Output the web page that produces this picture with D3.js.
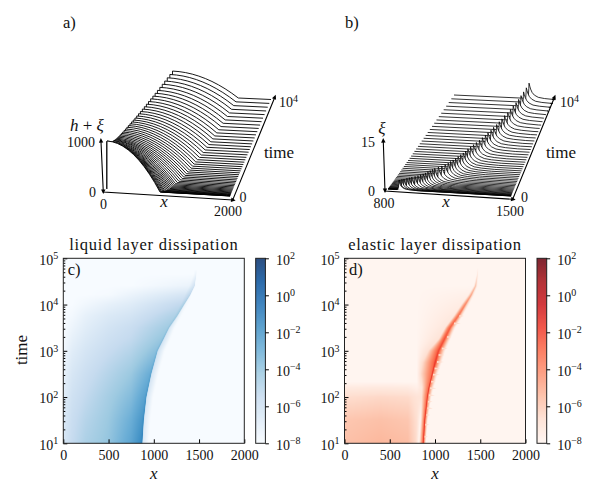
<!DOCTYPE html>
<html>
<head>
  <meta charset="utf-8">
  <script src="https://d3js.org/d3.v7.min.js"></script>
  <style>
    html, body { margin: 0; padding: 0; background: #fff; }
    svg { display: block; }
    text { font-family: "Liberation Serif", serif; fill: #111; font-size: 14px; }
    .it { font-style: italic; }
  </style>
</head>
<body>
<script>
// --- waterfall slices, shared by a) and b)
var sliceTime = [0,4,17,37,67,104,150,204,267,337,416,504,600,704,816,937,1066,1204,1349,1504,1666,1837,2016,2203,2399,
  2603,2816,3036,3265,3503,3749,4003,4265,4536,4815,5102,5398,5702,6014,6335,6664,7001,7347,7701,8063,8434,8813,9200,9596,10000];
var sliceFront = [862,866,878,889,905,918,930,947,961,974,986,996,1007,1017,1026,1035,1052,1067,1082,1095,1104,1113,1122,1131,1140,
  1149,1156,1163,1172,1182,1192,1203,1213,1223,1230,1240,1247,1257,1264,1271,1278,1288,1295,1302,1309,1315,1319,1324,1330,1336];
// a) height at x=0 of each slice
var slicePeak = [1000,999,985,973,956,942,930,913,900,888,877,868,859,850,843,836,822,811,799,790,784,777,771,765,759,
  753,748,744,738,732,726,719,713,707,703,698,694,688,684,681,677,672,668,664,661,658,656,653,650,647];
// a) cap shape, fraction of front position / fraction of peak height
var capX = [0,0.1,0.2,0.3,0.4,0.5,0.6,0.7,0.8,0.9,1];
var capH = [1,0.99,0.96,0.91,0.84,0.75,0.64,0.51,0.36,0.19,0];
// b) ridge height and tail width of each slice
var ridgeXi = [2.9,3,3.2,3.3,3.5,3.6,3.7,3.8,3.9,4,4.1,4.2,4.3,4.4,4.5,4.5,4.6,4.6,4.7,4.7,4.8,4.8,4.8,4.9,4.9,
  4.9,4.9,5,5,5,5,5,5.1,5.1,5.1,5.1,5.2,5.2,5.2,5.2,5.3,5.3,5.3,5.4,5.4,5.4,5.5,5.6,5.8,6.2];
var ridgeWidth = [60,62,64,66,68,70,72,74,76,78,80,82,84,86,88,90,92,94,96,98,100,102,104,106,108,
  110,110,110,110,110,110,110,110,110,110,110,110,110,110,110,110,110,110,110,110,110,110,110,110,110];
var ridgeDx = [-0.2,-0.1,-0.04,-0.015,0,0.05,0.1,0.2,0.35,0.6,1,1.7];
var ridgeH = [0,0.04,0.25,0.65,1,0.8,0.62,0.4,0.23,0.1,0.04,0];

// --- c) liquid layer dissipation, log10 values along rows of log10(time)
var liquidLogT = [1,1.5,2,2.5,3,3.25,3.5,3.75,4,4.2,4.4,4.65,4.75,5];
var liquidX = [
  [0,100,250,500,750,851,871,877,940,2000],
  [0,100,250,500,750,867,887,893,960,2000],
  [0,100,250,500,750,896,916,922,990,2000],
  [0,100,250,500,750,950,970,976,1050,2000],
  [0,100,250,500,750,1020,1040,1046,1120,2000],
  [0,100,250,500,750,1085,1105,1111,1180,2000],
  [0,100,250,500,750,1148,1168,1174,1230,2000],
  [0,100,250,500,750,1228,1258,1262,1300,2000],
  [0,100,250,500,750,1296,1336,1340,1370,2000],
  [0,100,250,500,750,1340,1400,1404,1430,2000],
  [0,100,250,500,750,1390,1450,1454,1480,2000],
  [0,100,250,500,750,1440,1468,1472,1490,2000],
  [0,100,250,500,750,1445,1472,1476,1492,2000],
  [0,100,250,500,750,1450,1475,1479,1495,2000]
];
var liquidV = [
  [-6.4,-5.5,-4.7,-4,-2.6,-1.6,-1.2,-6.6,-8,-8],
  [-6.6,-5.7,-5,-4.2,-3,-2,-1.5,-6.6,-8,-8],
  [-6.9,-6,-5.4,-4.5,-3.6,-2.5,-1.9,-6.4,-8,-8],
  [-7.3,-6.4,-5.8,-5,-4.2,-3,-2.5,-6.3,-8,-8],
  [-7.7,-6.9,-6.3,-5.6,-5,-3.8,-3.2,-6.1,-8,-8],
  [-7.9,-7.2,-6.6,-5.9,-5.4,-4.1,-3.5,-6.3,-8,-8],
  [-8,-7.5,-6.9,-6.2,-5.7,-4.4,-3.8,-6.5,-8,-8],
  [-8,-7.8,-7.2,-6.6,-6.2,-4.8,-4.1,-7,-8,-8],
  [-8,-8,-7.7,-7.2,-6.8,-5.4,-4.5,-7.6,-8,-8],
  [-8,-8,-8,-7.9,-7.4,-6.3,-5,-8,-8,-8],
  [-8,-8,-8,-8,-8,-7.4,-6,-8,-8,-8],
  [-8,-8,-8,-8,-8,-8,-7.4,-8,-8,-8],
  [-8,-8,-8,-8,-8,-8,-8,-8,-8,-8],
  [-8,-8,-8,-8,-8,-8,-8,-8,-8,-8]
];

// --- d) elastic layer dissipation
var elasticLogT = [1,1.5,2,2.2,2.32,2.5,2.75,3,3.25,3.5,3.75,4,4.2,4.4,4.65,4.78,5];
var elasticX = [
  [0,400,700,790,822,863,871,878,900,2000],
  [0,400,700,800,838,879,887,894,920,2000],
  [0,400,700,800,850,908,916,923,960,2000],
  [0,400,700,800,853,925,933,941,985,2000],
  [0,400,700,800,853,939,948,957,1005,2000],
  [0,400,700,800,855,960,970,980,1030,2000],
  [0,400,700,800,870,985,1003,1022,1075,2000],
  [0,400,700,800,925,1020,1040,1062,1115,2000],
  [0,400,700,800,1040,1083,1105,1128,1170,2000],
  [0,400,700,800,1110,1146,1168,1188,1225,2000],
  [0,400,700,800,1205,1238,1258,1275,1305,2000],
  [0,400,700,800,1290,1320,1336,1350,1375,2000],
  [0,400,700,800,1365,1388,1400,1410,1428,2000],
  [0,400,700,800,1428,1442,1450,1458,1470,2000],
  [0,400,700,800,1460,1465,1470,1474,1480,2000],
  [0,400,700,800,1463,1468,1473,1477,1483,2000],
  [0,400,700,800,1465,1470,1475,1479,1485,2000]
];
var elasticV = [
  [-5.7,-5.4,-5.6,-6.6,-8,-3.2,-1,-4,-8,-8],
  [-5.9,-5.7,-5.9,-6.8,-8,-3.2,-1,-4,-8,-8],
  [-6.7,-6.5,-6.6,-7,-7,-3.2,-1,-4,-8,-8],
  [-7.4,-7.3,-7.4,-7.7,-7.2,-3.2,-1,-4,-8,-8],
  [-8,-8,-8,-8,-6.8,-3.2,-1,-4,-8,-8],
  [-8,-8,-8,-8,-6.3,-3.2,-1.2,-4,-8,-8],
  [-8,-8,-8,-8,-6.5,-3,-1.5,-4,-8,-8],
  [-8,-8,-8,-8,-6.8,-3.1,-1.9,-4.2,-8,-8],
  [-8,-8,-8,-8,-7,-3.4,-2.2,-4.6,-8,-8],
  [-8,-8,-8,-8,-7.2,-3.8,-2.6,-5,-8,-8],
  [-8,-8,-8,-8,-7.3,-4.2,-3.1,-5.5,-8,-8],
  [-8,-8,-8,-8,-7.5,-4.8,-3.8,-6,-8,-8],
  [-8,-8,-8,-8,-7.7,-5.5,-4.6,-6.5,-8,-8],
  [-8,-8,-8,-8,-8,-6.3,-5.6,-7,-8,-8],
  [-8,-8,-8,-8,-8,-7.6,-7,-7.8,-8,-8],
  [-8,-8,-8,-8,-8,-8,-8,-8,-8,-8],
  [-8,-8,-8,-8,-8,-8,-8,-8,-8,-8]
];
// pale streaks on the right of the elastic ridge
var streakLogT = [1.14,1.4,1.61,1.76,1.9,2.04,2.19,2.33,2.48,2.62,2.76,2.91,3.05,3.3,3.59,3.75];
var streakX = [885,892,906,916,922,932,946,958,978,996,1022,1040,1075,1135,1210,1270];
var streakLen = [35,45,42,60,50,65,70,52,75,62,75,62,65,48,75,50];

var bluesStops = ["#f7fbff","#deebf7","#c6dbef","#9ecae1","#6baed6","#4292c6","#2171b5","#08519c","#08306b"];
var redsStops = ["#fff5f0","#fee0d2","#fcbba1","#fc9272","#fb6a4a","#ef3b2c","#cb181d","#a50f15","#67000d"];
var cbarTicks = [-8,-6,-4,-2,0,2];
var xTicks = [0,500,1000,1500,2000];
var decades = [1,2,3,4,5];

var svg = d3.select("body").append("svg").attr("width", 600).attr("height", 500);

function sup(sel, exp) {
  sel.text("10").append("tspan").attr("dy", -5.5).style("font-size", "10px").text(String(exp).replace("-", "\u2212"));
}
function label(x, y, txt, anchor, size, cls) {
  return svg.append("text").attr("x", x).attr("y", y).attr("text-anchor", anchor || "start")
    .style("font-size", (size || 14) + "px").attr("class", cls || null).text(txt);
}

// --- waterfall panels
function makeProjection(c, zMax) {
  // c: corners of the base plane on screen
  var u = d3.scaleLinear().domain(c.xDomain).range([0, 1]);
  var v = d3.scaleLinear().domain([0, 10000]).range([0, 1]);
  var zpx = d3.scaleLinear().domain([0, 1]).range([c.zFront, c.zBack]);
  return function(x, t, z) {
    var a = v(t), b = u(x);
    var l = d3.interpolate(c.fl, c.bl)(a), r = d3.interpolate(c.fr, c.br)(a);
    return [l[0] + (r[0] - l[0]) * b, l[1] + (r[1] - l[1]) * b - z / zMax * zpx(a)];
  };
}
function drawSlices(slices, lw) {
  // back to front, white fill hides what is behind
  svg.append("g").selectAll("path").data(slices.slice().reverse()).join("path")
    .attr("d", d3.line())
    .attr("fill", "#fff").attr("stroke", "#000").attr("stroke-width", lw).attr("stroke-linejoin", "round");
}
function arrow(x, y, ang) {
  svg.append("path").attr("d", "M-2.2,1.6L0,-3L2.2,1.6Z").attr("transform", "translate(" + x + "," + y + ") rotate(" + ang + ")").attr("fill", "#000");
}
function axis3d(p) {
  svg.append("path").attr("d", d3.line()(p)).attr("fill", "none").attr("stroke", "#000").attr("stroke-width", 1.1);
}

var projA = makeProjection({xDomain: [0, 2000], fl: [107, 189], fr: [230, 196], bl: [172.5, 95], br: [271, 99.5], zFront: 48, zBack: 37}, 1000);
var slicesA = sliceTime.map(function(t, i) {
  var pts = [projA(0, t, 0)];
  capX.forEach(function(f, k) { pts.push(projA(f * sliceFront[i], t, capH[k] * slicePeak[i])); });
  pts.push(projA(2000, t, 0));
  return pts;
});
drawSlices(slicesA, 0.9);

var projB = makeProjection({xDomain: [800, 1500], fl: [388, 189], fr: [511, 196], bl: [454, 95], br: [552, 99.5], zFront: 48, zBack: 37}, 15);
var slicesB = sliceTime.map(function(t, i) {
  var pts = [projB(800, t, 0)];
  ridgeDx.forEach(function(d, k) { pts.push(projB(sliceFront[i] + d * ridgeWidth[i], t, ridgeH[k] * ridgeXi[i])); });
  pts.push(projB(1500, t, 0));
  return pts;
});
drawSlices(slicesB, 0.8);

axis3d([[101, 141.7], [103.3, 192], [232.7, 200], [274.3, 98.5]]);
axis3d([[383.3, 141.7], [385, 191], [512.7, 199.3], [554, 98.5]]);
arrow(101, 141, -3); arrow(274.6, 97.5, 22);
arrow(383.3, 141, -2); arrow(554.3, 97.5, 22);
arrow(103.3, 191, 180); arrow(232.7, 200, 100);
arrow(385, 190, 180); arrow(512.7, 199.3, 100);

label(63, 28, "a)", "start", 16.5);
label(345, 28, "b)", "start", 16.5);

var hxi = label(70, 131, "", "start", 17);
hxi.append("tspan").attr("class", "it").text("h");
hxi.append("tspan").text(" + ");
hxi.append("tspan").attr("class", "it").text("\u03be");
label(95, 147, "1000", "end"); label(96, 197, "0", "end");
label(103.5, 209, "0", "middle"); label(164, 207, "x", "middle", 17, "it");
label(228, 215.5, "2000", "middle"); label(243, 202, "0", "middle");
sup(label(279, 107, ""), 4);
label(279, 158, "time", "middle", 17);

label(382, 134, "\u03be", "middle", 17, "it");
label(375, 147, "15", "end"); label(375, 196, "0", "end");
label(384, 208, "800", "middle"); label(446, 207, "x", "middle", 17, "it");
label(510, 215.5, "1500", "middle"); label(524.5, 202, "0", "middle");
sup(label(560, 107, ""), 4);
label(561, 158, "time", "middle", 17);

// --- heatmap panels
var plotTop = 258.3, plotBottom = 443.3;
var logY = d3.scaleLinear().domain([1, 5]).range([plotBottom, plotTop]);
var timeY = d3.scaleLog().domain([10, 100000]).range([plotBottom, plotTop]);
var cbarY = d3.scaleLinear().domain([-8, 2]).range([plotBottom, plotTop]);

function fieldRow(logT, rowsT, rowsX, rowsV) {
  var i = Math.max(1, Math.min(d3.bisectRight(rowsT, logT), rowsT.length - 1));
  var m = (logT - rowsT[i - 1]) / (rowsT[i] - rowsT[i - 1]);
  var xs = rowsX[i].map(function(x, k) { return rowsX[i - 1][k] + (x - rowsX[i - 1][k]) * m; });
  var vs = rowsV[i].map(function(v, k) { return rowsV[i - 1][k] + (v - rowsV[i - 1][k]) * m; });
  return d3.scaleLinear().domain(xs).range(vs).clamp(true);
}

function heatPanel(opt) {
  var left = opt.left, right = left + 181;
  var xS = d3.scaleLinear().domain([0, 2000]).range([left, right]);
  var color = d3.scaleLinear().domain(opt.stops.map(function(s, i) { return -8 + i * 10 / 8; })).range(opt.stops).clamp(true);

  var w = 181 * 4, h = 185 * 2;
  var cv = document.createElement("canvas");
  cv.width = w; cv.height = h;
  var ctx = cv.getContext("2d"), im = ctx.createImageData(w, h);
  for (var j = 0; j < h; j++) {
    var row = fieldRow(logY.invert(plotTop + (j + 0.5) / 2), opt.rowsT, opt.rowsX, opt.rowsV);
    for (var i = 0; i < w; i++) {
      var c = d3.rgb(color(row(xS.invert(left + (i + 0.5) / 4))));
      var p = (j * w + i) * 4;
      im.data[p] = c.r; im.data[p + 1] = c.g; im.data[p + 2] = c.b; im.data[p + 3] = 255;
    }
  }
  ctx.putImageData(im, 0, 0);
  svg.append("image").attr("x", left).attr("y", plotTop).attr("width", 181).attr("height", 185)
    .attr("preserveAspectRatio", "none").attr("href", cv.toDataURL());

  if (opt.streaks) {
    svg.append("g").selectAll("path").data(streakLogT).join("path")
      .attr("d", function(l, i) {
        var x0 = xS(streakX[i]), x1 = xS(streakX[i] + streakLen[i]), y = logY(l);
        return "M" + x0 + "," + (y - 1) + "L" + x1 + "," + y + "L" + x0 + "," + (y + 1) + "Z";
      })
      .attr("fill", color(-6.6));
  }

  // axes
  var gx = svg.append("g").attr("transform", "translate(0," + plotBottom + ")")
    .call(d3.axisBottom(xS).tickValues(xTicks).tickSize(-4).tickPadding(7).tickFormat(d3.format("d")));
  gx.select(".domain").remove();
  gx.selectAll("text").style("font-size", "14px").attr("fill", null).style("font-family", "Liberation Serif");

  var gy = svg.append("g").attr("transform", "translate(" + left + ",0)")
    .call(d3.axisLeft(timeY).tickValues(decades.map(function(d) { return Math.pow(10, d); })).tickSize(-4).tickPadding(5).tickFormat(""));
  gy.select(".domain").remove();
  gy.selectAll(".tick text").each(function(d) {
    d3.select(this).attr("dy", "0.42em").style("font-size", "14px").style("font-family", "Liberation Serif").call(sup, Math.round(Math.log10(d)));
  });
  var minors = [];
  [1, 2, 3, 4].forEach(function(e) { [2,3,4,5,6,7,8,9].forEach(function(m) { minors.push(m * Math.pow(10, e)); }); });
  var gm = svg.append("g").attr("transform", "translate(" + left + ",0)")
    .call(d3.axisLeft(timeY).tickValues(minors).tickSize(-2).tickFormat(""));
  gm.select(".domain").remove();

  svg.append("rect").attr("x", left).attr("y", plotTop).attr("width", 181).attr("height", 185)
    .attr("fill", "none").attr("stroke", "#222").attr("stroke-width", 1);

  // colorbar
  var cx = opt.cbarLeft, cw = 9.7;
  svg.append("g").selectAll("rect").data(d3.range(0, 185)).join("rect")
    .attr("x", cx).attr("width", cw).attr("y", function(d) { return plotTop + d; }).attr("height", 1.2)
    .attr("fill", function(d) { return color(cbarY.invert(plotTop + d + 0.5)); });
  svg.append("rect").attr("x", cx).attr("y", plotTop).attr("width", cw).attr("height", 185)
    .attr("fill", "none").attr("stroke", "#222").attr("stroke-width", 1);
  var gc = svg.append("g").attr("transform", "translate(" + (cx + cw) + ",0)")
    .call(d3.axisRight(cbarY).tickValues(cbarTicks).tickSize(3.5).tickPadding(7).tickFormat(""));
  gc.select(".domain").remove();
  gc.selectAll(".tick text").each(function(d) {
    d3.select(this).attr("dy", "0.42em").style("font-size", "14px").style("font-family", "Liberation Serif").call(sup, d);
  });

  label(left + 90.5, 250, opt.title, "middle", 16.5).style("letter-spacing", "0.75px");
  label(left + 4.5, 275, opt.tag, "start", 16.5);
  label(left + 90.5, 479, "x", "middle", 17, "it");
}

heatPanel({left: 63.3, cbarLeft: 255.7, stops: bluesStops, rowsT: liquidLogT, rowsX: liquidX, rowsV: liquidV,
  title: "liquid layer dissipation", tag: "c)"});
heatPanel({left: 344.5, cbarLeft: 537, stops: redsStops, rowsT: elasticLogT, rowsX: elasticX, rowsV: elasticV,
  title: "elastic layer dissipation", tag: "d)", streaks: true});

svg.append("text").attr("transform", "translate(27,350) rotate(-90)").attr("text-anchor", "middle")
  .style("font-size", "17px").text("time");
</script>
</body>
</html>
